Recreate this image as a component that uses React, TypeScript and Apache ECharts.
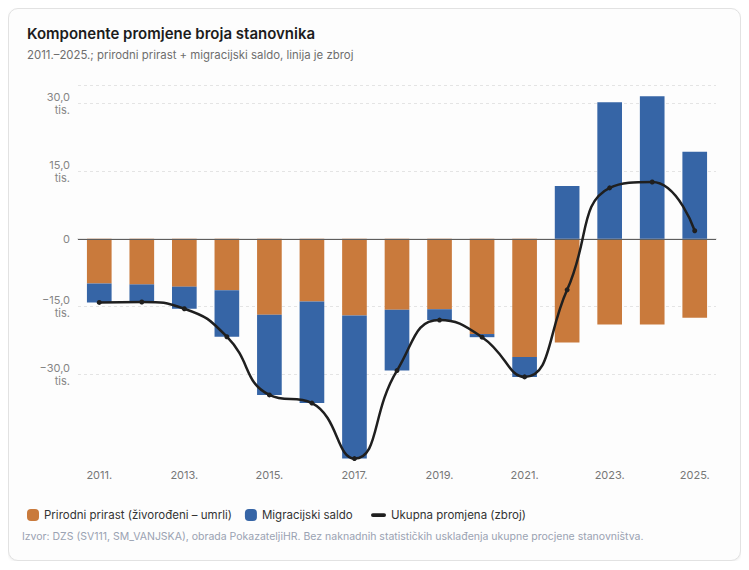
import { useEffect, useRef } from "react";
import * as echarts from "echarts";

const FONT = "Inter, 'Noto Sans', sans-serif";
const ORANGE = "#C97A3C";
const BLUE = "#3665A6";
const LINE = "#1F1F1F";
const MUTE = "#858585";

const YEARS = [
  "2011.", "2012.", "2013.", "2014.", "2015.", "2016.", "2017.", "2018.",
  "2019.", "2020.", "2021.", "2022.", "2023.", "2024.", "2025.",
];
// tisuće stanovnika
const NATURAL = [-9.9, -10.1, -10.6, -11.4, -16.8, -13.9, -17.0, -15.7, -15.6, -21.1, -26.2, -23.0, -19.0, -19.0, -17.5];
const MIGRATION = [-4.2, -3.9, -4.9, -10.3, -17.8, -22.5, -31.7, -13.5, -2.4, -0.7, -4.4, 11.7, 30.3, 31.6, 19.3];
const TOTAL = [-14.1, -14.0, -15.5, -21.7, -34.6, -36.4, -48.7, -29.2, -18.0, -21.8, -30.6, -11.3, 11.3, 12.6, 1.8];
const Y_LABELS = [-30, -15, 0, 15, 30];
const Y_MIN = -48.8;
const Y_MAX = 34.1;

const N_NAME = "Prirodni prirast (živorođeni – umrli)";
const M_NAME = "Migracijski saldo";
const T_NAME = "Ukupna promjena (zbroj)";

const fmt = (v: number) =>
  v === 0 ? "0" : (v < 0 ? "\u2212" : "") + Math.abs(v).toFixed(1).replace(".", ",") + "\ntis.";

const SQUARE = "path://M4,0H8A4,4,0,0,1,12,4V8A4,4,0,0,1,8,12H4A4,4,0,0,1,0,8V4A4,4,0,0,1,4,0Z";
const PILL = "path://M2,0H14A2,2,0,0,1,14,4H2A2,2,0,0,1,2,0Z";

export default function App() {
  const ref = useRef<HTMLDivElement>(null);

  useEffect(() => {
    if (!ref.current) return;
    const chart = echarts.init(ref.current, undefined, { renderer: "svg" });

    chart.setOption({
      animation: false,
      textStyle: { fontFamily: FONT },
      title: [
        {
          text: "Komponente promjene broja stanovnika",
          left: 13,
          top: 12,
          textStyle: { fontSize: 15, fontWeight: 600, color: "#1C1C1C", fontFamily: FONT },
        },
        {
          text: "2011.–2025.; prirodni prirast + migracijski saldo, linija je zbroj",
          left: 13,
          top: 35,
          textStyle: { fontSize: 11.4, fontWeight: 400, color: "#6E6E6E", fontFamily: FONT },
        },
      ],
      legend: [
        {
          left: 13,
          top: 495,
          itemWidth: 12,
          itemHeight: 12,
          itemGap: 13,
          textStyle: { color: "#333", fontSize: 11.5, fontFamily: FONT },
          data: [
            { name: N_NAME, icon: SQUARE },
            { name: M_NAME, icon: SQUARE },
          ],
        },
        {
          left: 357,
          top: 495,
          itemWidth: 15,
          itemHeight: 4,
          textStyle: { color: "#333", fontSize: 11.5, fontFamily: FONT },
          data: [{ name: T_NAME, icon: PILL }],
        },
      ],
      graphic: [
        {
          type: "text",
          left: 13,
          top: 522,
          style: {
            text: "Izvor: DZS (SV111, SM_VANJSKA), obrada PokazateljiHR. Bez naknadnih statističkih usklađenja ukupne procjene stanovništva.",
            fill: "#9AA2B2",
            fontSize: 10.5,
            fontFamily: FONT,
          },
        },
      ],
      grid: { left: 69, right: 24, top: 76, bottom: 101 },
      xAxis: {
        type: "category",
        data: YEARS,
        axisLine: { lineStyle: { color: "#E6E6E6", width: 2 } },
        axisTick: { show: false },
        axisLabel: { color: "#777", fontSize: 11, interval: 1, margin: 10 },
      },
      yAxis: {
        type: "value",
        min: Y_MIN,
        max: Y_MAX,
        axisLine: { show: false },
        axisTick: { show: false, customValues: [-30, -15, 15, 30, Y_MAX] },
        axisLabel: {
          customValues: Y_LABELS,
          color: MUTE,
          fontSize: 11,
          lineHeight: 13,
          margin: 8,
          formatter: (v: number) => fmt(v),
        },
        splitLine: { lineStyle: { color: "#E4E4E4", type: [3, 3], width: 1 } },
      },
      series: [
        {
          name: N_NAME,
          type: "bar",
          stack: "comp",
          data: NATURAL,
          barWidth: "58%",
          itemStyle: { color: ORANGE },
          markLine: {
            symbol: "none",
            silent: true,
            label: { show: false },
            lineStyle: { color: "#5E5E5E", type: "solid", width: 1 },
            data: [{ yAxis: 0 }],
            z: 5,
          },
        },
        {
          name: M_NAME,
          type: "bar",
          stack: "comp",
          data: MIGRATION,
          barWidth: "58%",
          itemStyle: { color: BLUE },
        },
        {
          name: T_NAME,
          type: "line",
          data: TOTAL,
          smooth: 0.5,
          symbol: "circle",
          symbolSize: 5,
          z: 10,
          itemStyle: { color: LINE },
          lineStyle: { color: LINE, width: 2.5 },
        },
      ],
    });

    return () => chart.dispose();
  }, []);

  return (
    <div
      style={{
        width: 733,
        height: 553,
        boxSizing: "border-box",
        border: "1px solid #E2E2E2",
        borderRadius: 10,
        background: "#FDFDFD",
        boxShadow: "0 1px 3px rgba(0,0,0,0.08)",
      }}
    >
      <div ref={ref} style={{ width: 731, height: 551 }} />
    </div>
  );
}
